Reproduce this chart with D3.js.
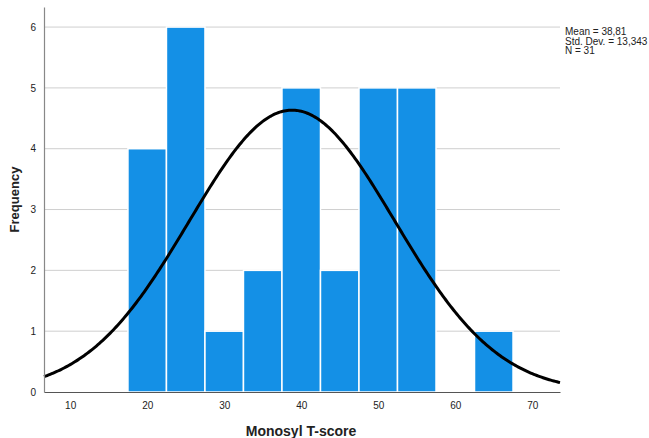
<!DOCTYPE html>
<html>
<head>
<meta charset="utf-8">
<script src="https://cdn.jsdelivr.net/npm/d3@7"></script>
<style>
  body { margin: 0; background: #fff; }
  svg { font-family: "Liberation Sans", Arial, sans-serif; }
</style>
</head>
<body>
<div class="chart"></div>
<script>
// histogram bins (lower edge, upper edge) and counts
const binStart = [17.5, 22.5, 27.5, 32.5, 37.5, 42.5, 47.5, 52.5, 57.5, 62.5];
const binEnd   = [22.5, 27.5, 32.5, 37.5, 42.5, 47.5, 52.5, 57.5, 62.5, 67.5];
const counts   = [4, 6, 1, 2, 5, 2, 5, 5, 0, 1];
const xTicks = [10, 20, 30, 40, 50, 60, 70];
const yTicks = [0, 1, 2, 3, 4, 5, 6];
const statLines = ["Mean = 38,81", "Std. Dev. = 13,343", "N = 31"];
const mean = 38.81, sd = 13.343, n = 31;

const W = 649, H = 438;
const margin = { top: 7, left: 44, right: 89, bottom: 46 };
const width = W - margin.left - margin.right;
const height = H - margin.top - margin.bottom;

const x = d3.scaleLinear().domain([6.6, 73.6]).range([0, width]);
const y = d3.scaleLinear().domain([0, 6.33]).range([height, 0]);

const svg = d3.select(".chart").append("svg")
    .attr("width", W).attr("height", H);
const g = svg.append("g")
    .attr("transform", "translate(" + margin.left + "," + margin.top + ")");

// grid lines
g.selectAll(".grid")
    .data(yTicks.filter(d => d > 0))
    .enter().append("line")
    .attr("x1", 0).attr("x2", width)
    .attr("y1", d => y(d)).attr("y2", d => y(d))
    .attr("stroke", "#cfcfcf").attr("stroke-width", 1);

// bars
g.selectAll(".bar")
    .data(counts.map((c, i) => ({ x0: binStart[i], x1: binEnd[i], c: c })).filter(d => d.c > 0))
    .enter().append("rect")
    .attr("x", d => x(d.x0))
    .attr("y", d => y(d.c))
    .attr("width", d => x(d.x1) - x(d.x0))
    .attr("height", d => y(0) - y(d.c))
    .attr("fill", "#1490e6")
    .attr("stroke", "#ffffff")
    .attr("stroke-width", 1.5);

// normal curve from mean / sd
const binW = 5;
const curve = d3.range(6.6, 73.61, 0.2).map(v => [v,
    n * binW / (sd * Math.sqrt(2 * Math.PI)) * Math.exp(-0.5 * Math.pow((v - mean) / sd, 2))]);
g.append("path")
    .datum(curve)
    .attr("d", d3.line().x(d => x(d[0])).y(d => y(d[1])))
    .attr("fill", "none")
    .attr("stroke", "#000")
    .attr("stroke-width", 3);

// axes
const xAxis = g.append("g")
    .attr("transform", "translate(0," + height + ")")
    .call(d3.axisBottom(x).tickValues(xTicks).tickSize(0).tickPadding(10));
xAxis.select(".domain").attr("stroke", "#555").attr("stroke-width", 1.2);
xAxis.selectAll("text").attr("font-size", 10).attr("fill", "#222")
    .attr("font-family", "Liberation Sans, Arial, sans-serif");

const yAxis = g.append("g")
    .call(d3.axisLeft(y).tickValues(yTicks).tickFormat(d3.format("d")).tickSize(0).tickPadding(8));
yAxis.select(".domain").attr("stroke", "#888").attr("stroke-width", 1.2);
yAxis.selectAll("text").attr("font-size", 10).attr("fill", "#222")
    .attr("font-family", "Liberation Sans, Arial, sans-serif");

// axis titles
svg.append("text")
    .text("Monosyl T-score")
    .attr("x", 301).attr("y", 436)
    .attr("text-anchor", "middle")
    .attr("font-size", 14).attr("font-weight", "bold").attr("fill", "#222");

svg.append("text")
    .text("Frequency")
    .attr("transform", "translate(19," + (margin.top + height / 2) + ") rotate(-90)")
    .attr("text-anchor", "middle")
    .attr("font-size", 13).attr("font-weight", "bold").attr("fill", "#222");

// stats box
svg.selectAll(".stat")
    .data(statLines)
    .enter().append("text")
    .text(d => d)
    .attr("x", 565)
    .attr("y", (d, i) => 35 + i * 9.6)
    .attr("font-size", 10).attr("fill", "#222");
</script>
</body>
</html>
